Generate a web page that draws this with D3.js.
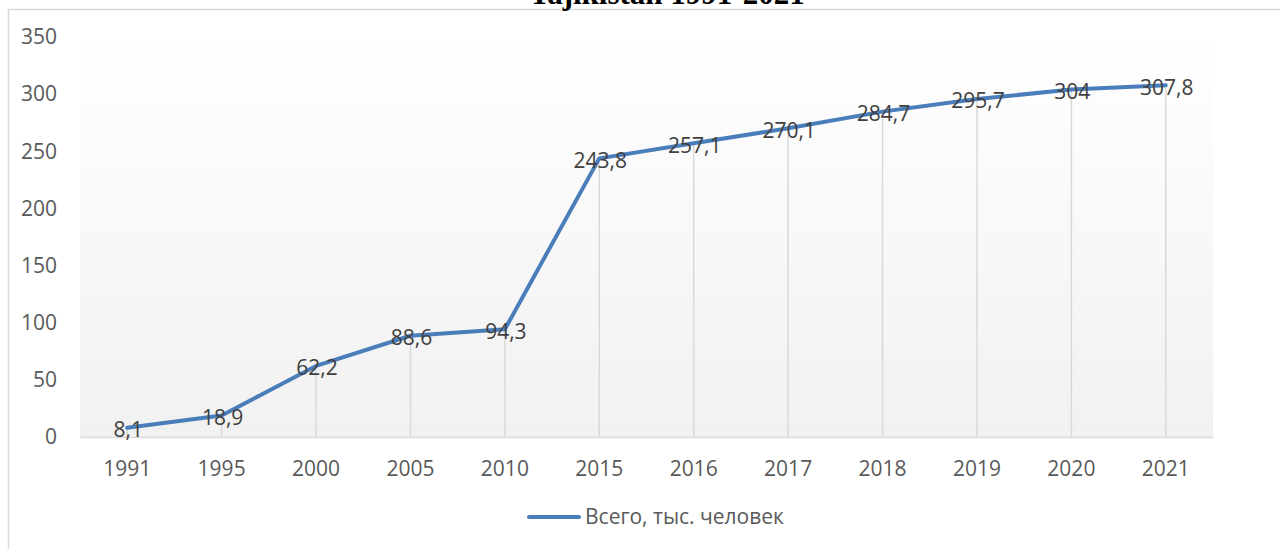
<!DOCTYPE html>
<html lang="ru">
<head>
<meta charset="utf-8">
<title>Tajikistan 1991-2021</title>
<script src="https://d3js.org/d3.v7.min.js"></script>
<style>
  html, body { margin: 0; padding: 0; background: #fff; overflow: hidden; }
  svg { display: block; }
</style>
</head>
<body>
<div id="chart"></div>
<script>
// data
var years = ["1991", "1995", "2000", "2005", "2010", "2015", "2016", "2017", "2018", "2019", "2020", "2021"];
var values = [8.1, 18.9, 62.2, 88.6, 94.3, 243.8, 257.1, 270.1, 284.7, 295.7, 304, 307.8];
var yTicks = [0, 50, 100, 150, 200, 250, 300, 350];
var seriesName = "Всего, тыс. человек";
var title = "Tajikistan 1991-2021";

var w = 1280, h = 549;
var plotLeft = 80, plotRight = 1213, plotTop = 37, plotBottom = 437;
var font = "'Open Sans', 'Noto Sans', sans-serif";

var svg = d3.select("#chart").append("svg")
  .attr("width", w)
  .attr("height", h);

// background gradient of plot area
var grad = svg.append("defs").append("linearGradient")
  .attr("id", "bg")
  .attr("x1", 0).attr("y1", 1).attr("x2", 0).attr("y2", 0);
grad.append("stop").attr("offset", "0%").attr("stop-color", "#f1f1f1");
grad.append("stop").attr("offset", "100%").attr("stop-color", "#ffffff");

// chart border
svg.append("rect")
  .attr("x", 8.5).attr("y", 9.5)
  .attr("width", w + 10).attr("height", h + 10)
  .attr("fill", "none")
  .attr("stroke", "#d9d9d9")
  .attr("stroke-width", 1.5);

// title (cut off at top as in source)
svg.append("text")
  .attr("x", 667).attr("y", 4)
  .attr("text-anchor", "middle")
  .attr("font-family", "'Liberation Serif', 'DejaVu Serif', serif")
  .attr("font-weight", "bold")
  .attr("font-size", "31px")
  .attr("fill", "#000")
  .text(title);

var x = d3.scaleBand()
  .domain(years)
  .range([plotLeft, plotRight]);

var y = d3.scaleLinear()
  .domain([0, 350])
  .range([plotBottom, plotTop]);

svg.append("rect")
  .attr("x", plotLeft).attr("y", plotTop)
  .attr("width", plotRight - plotLeft).attr("height", plotBottom - plotTop)
  .attr("fill", "url(#bg)");

// drop lines
svg.selectAll(".drop")
  .data(values)
  .enter()
  .append("line")
  .attr("class", "drop")
  .attr("x1", function(d, i) { return x(years[i]) + x.bandwidth() / 2; })
  .attr("x2", function(d, i) { return x(years[i]) + x.bandwidth() / 2; })
  .attr("y1", function(d) { return y(d); })
  .attr("y2", y(0))
  .attr("stroke", "#d9d9d9")
  .attr("stroke-width", 1.5);

// x axis
var xAxis = svg.append("g")
  .attr("transform", "translate(0," + y(0) + ")")
  .call(d3.axisBottom(x).tickSize(0).tickPadding(24));
xAxis.select(".domain").attr("stroke", "#d9d9d9").attr("stroke-width", 1.5);
xAxis.selectAll("text")
  .attr("font-family", font)
  .attr("font-size", "21px")
  .attr("fill", "#595959");

// y axis
var yAxis = svg.append("g")
  .attr("transform", "translate(" + plotLeft + ",0)")
  .call(d3.axisLeft(y).tickValues(yTicks).tickSize(0).tickPadding(23));
yAxis.select(".domain").remove();
yAxis.selectAll("text")
  .attr("font-family", font)
  .attr("font-size", "21px")
  .attr("fill", "#595959");

// line
var line = d3.line()
  .x(function(d, i) { return x(years[i]) + x.bandwidth() / 2; })
  .y(function(d) { return y(d); });

svg.append("path")
  .datum(values)
  .attr("d", line)
  .attr("fill", "none")
  .attr("stroke", "#4a7ebb")
  .attr("stroke-width", 4)
  .attr("stroke-linejoin", "round")
  .attr("stroke-linecap", "round");

// data labels
svg.selectAll(".lbl")
  .data(values)
  .enter()
  .append("text")
  .attr("class", "lbl")
  .attr("x", function(d, i) { return x(years[i]) + x.bandwidth() / 2 + 1; })
  .attr("y", function(d) { return y(d) + 2; })
  .attr("dy", "0.35em")
  .attr("text-anchor", "middle")
  .attr("font-family", font)
  .attr("font-size", "21px")
  .attr("fill", "#404040")
  .text(function(d) { return String(d).replace(".", ","); });

// legend
svg.append("line")
  .attr("x1", 529).attr("x2", 579)
  .attr("y1", 517).attr("y2", 517)
  .attr("stroke", "#4a7ebb")
  .attr("stroke-width", 4)
  .attr("stroke-linecap", "round");
svg.append("text")
  .attr("x", 585).attr("y", 517)
  .attr("dy", "0.35em")
  .attr("font-family", font)
  .attr("font-size", "21px")
  .attr("fill", "#595959")
  .text(seriesName);
</script>
</body>
</html>
